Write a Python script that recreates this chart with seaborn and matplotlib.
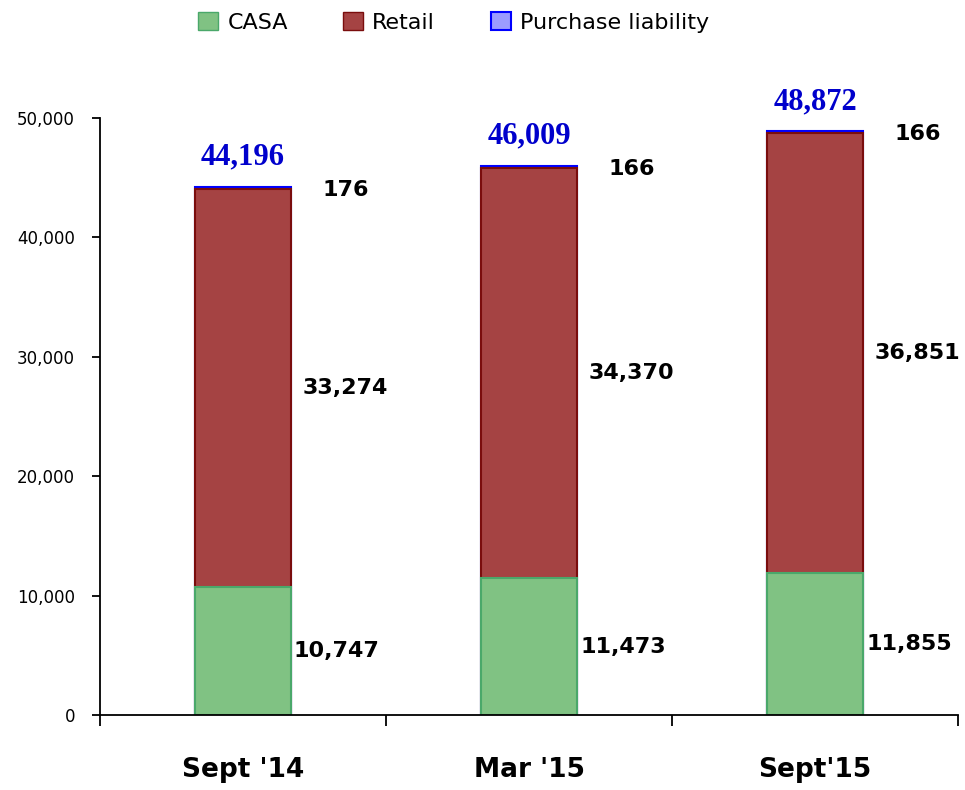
import pandas as pd
import matplotlib.pyplot as plt
import seaborn as sns
from matplotlib.patches import Patch

# Chart data
periods = ["Sept '14", "Mar '15", "Sept'15"]
casa = [10747, 11473, 11855]
retail = [33274, 34370, 36851]
purchase = [176, 166, 166]
totals = [44196, 46009, 48872]

df = pd.DataFrame({'Period': periods, 'CASA': casa, 'Retail': retail,
                   'Purchase liability': purchase})
df['cum_casa'] = df['CASA']
df['cum_retail'] = df['CASA'] + df['Retail']
df['cum_all'] = df['cum_retail'] + df['Purchase liability']

sns.set_style('white')
plt.rcParams['font.family'] = ['DejaVu Sans']
plt.rcParams.update({'text.color': 'black', 'xtick.color': 'black',
                     'ytick.color': 'black', 'axes.labelcolor': 'black'})

fig = plt.figure(figsize=(9.65, 7.9), dpi=100)
ax = fig.add_axes([0.1036, 0.0949, 0.8894, 0.7557])

green, green_edge = '#80c283', '#4aa86a'
red, red_edge = '#a54343', '#7a0d0d'
blue = '#0000ff'

# stacked bars drawn as cumulative layers, tallest first
sns.barplot(data=df, x='Period', y='cum_all', order=periods, color=blue,
            width=0.336, edgecolor=blue, linewidth=1.5, saturation=1, ax=ax)
sns.barplot(data=df, x='Period', y='cum_retail', order=periods, color=red,
            width=0.336, edgecolor=red_edge, linewidth=1.5, saturation=1, ax=ax)
sns.barplot(data=df, x='Period', y='cum_casa', order=periods, color=green,
            width=0.336, edgecolor=green_edge, linewidth=1.5, saturation=1, ax=ax)

half = 0.336 / 2
for i in range(len(periods)):
    ax.text(i + half + 0.01, df['CASA'][i] / 2, f"{casa[i]:,}", fontsize=16,
            fontweight='bold', va='center', ha='left')
    ax.text(i + half + 0.04, df['CASA'][i] + df['Retail'][i] / 2, f"{retail[i]:,}",
            fontsize=16, fontweight='bold', va='center', ha='left')
    ax.text(i + half + 0.11, df['cum_all'][i] - 250, f"{purchase[i]:,}", fontsize=16,
            fontweight='bold', va='center', ha='left')
    ax.text(i, df['cum_all'][i] + 1300, f"{totals[i]:,}", fontsize=22,
            fontweight='bold', color='#0000cc', family='Liberation Serif',
            ha='center', va='bottom')

ax.set_ylim(0, 50000)
ax.set_xlim(-0.5, 2.5)
ax.set_yticks(range(0, 50001, 10000))
ax.set_yticklabels([f"{v:,}" for v in range(0, 50001, 10000)], fontsize=12)
ax.set_xticks(range(len(periods)))
ax.set_xticklabels(periods, fontsize=19, fontweight='bold')
ax.set_xticks([-0.5, 0.5, 1.5, 2.5], minor=True)
ax.tick_params(axis='x', which='major', bottom=True, length=0, pad=30)
ax.tick_params(axis='x', which='minor', bottom=True, length=8, width=1.3,
               direction='out', color='black')
ax.tick_params(axis='y', left=True, length=6, width=1.3, direction='out',
               color='black', pad=12)
ax.set_xlabel('')
ax.set_ylabel('')
for s in ['top', 'right']:
    ax.spines[s].set_visible(False)
for s in ['left', 'bottom']:
    ax.spines[s].set_color('black')
    ax.spines[s].set_linewidth(1.3)

handles = [Patch(facecolor=green, edgecolor=green_edge, label='CASA'),
           Patch(facecolor=red, edgecolor=red_edge, label='Retail'),
           Patch(facecolor='#9c9cff', edgecolor=blue, linewidth=1.5, label='Purchase liability')]
fig.legend(handles=handles, loc='center', bbox_to_anchor=(0.47, 0.972), ncol=3,
           frameon=False, fontsize=16, handlelength=0.9, handleheight=0.9,
           handletextpad=0.4, columnspacing=2.5)

plt.savefig('out.png', dpi=100)
